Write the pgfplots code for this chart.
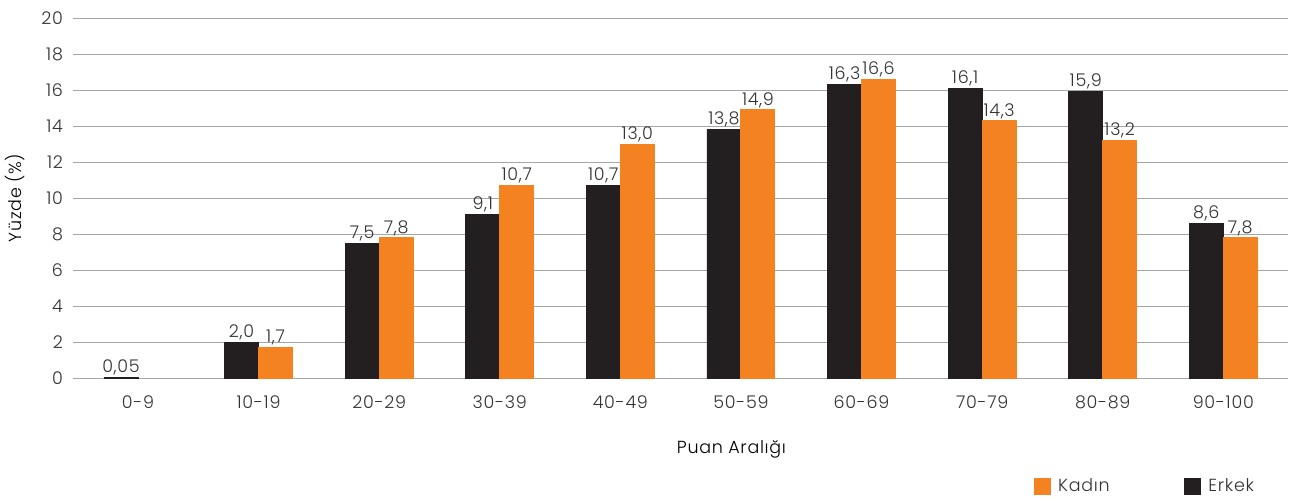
\documentclass[border=0pt]{standalone}
\usepackage{pgfplots}
\pgfplotsset{compat=1.18}
\usepackage{pgfplotstable}
\usepackage{fontspec}
\setmainfont{Poppins Light}[LetterSpace=4]
\definecolor{erk}{HTML}{231F20}
\definecolor{kad}{HTML}{F58220}
\definecolor{gridc}{HTML}{A6A6A6}
\definecolor{txt}{HTML}{333333}

\pgfplotstableread{
x y lab
0 0.05 0,05
1 2.0 2,0
2 7.5 7,5
3 9.1 9,1
4 10.7 10,7
5 13.8 13,8
6 16.3 16,3
7 16.1 16,1
8 15.9 15,9
9 8.6 8,6
}\erkek
\pgfplotstableread{
x y lab
1 1.7 1,7
2 7.8 7,8
3 10.7 10,7
4 13.0 13,0
5 14.9 14,9
6 16.6 16,6
7 14.3 14,3
8 13.2 13,2
9 7.8 7,8
}\kadin

\begin{document}
\fontsize{17.5}{20}\selectfont
\begin{tikzpicture}
\useasboundingbox (-73pt,-123pt) rectangle (1225pt,378pt);
\begin{axis}[
  at={(0pt,0pt)}, anchor=south west,
  scale only axis, width=1215pt, height=360pt,
  xmin=-0.539, xmax=9.536, ymin=0, ymax=20,
  ytick={0,2,...,20},
  xtick={0,...,9},
  xticklabels={0-9,10-19,20-29,30-39,40-49,50-59,60-69,70-79,80-89,90-100},
  ymajorgrids, grid style={gridc, line width=0.8pt},
  axis line style={draw=none},
  major tick length=0pt,
  /pgf/number format/assume math mode=true,
  tick label style={font=\fontsize{17.5}{20}\selectfont, text=txt},
  yticklabel style={xshift=-4pt},
  xticklabel style={yshift=-12pt},
  ylabel={Yüzde (\%)},
  xlabel={Puan Aralığı},
  label style={font=\fontsize{17.5}{20}\selectfont, text=txt},
  every axis y label/.style={at={(axis description cs:0,0.5)}, rotate=90, anchor=center, yshift=58pt},
  every axis x label/.style={at={(axis description cs:0.5,0)}, anchor=center, yshift=-71pt, xshift=51pt},
  ybar=0pt, bar width=34pt,
  nodes near coords,
  point meta=explicit symbolic,
  nodes near coords style={font=\fontsize{17.5}{20}\selectfont, text=txt, inner sep=2pt},
  legend columns=2, reverse legend,
  legend style={at={(axis description cs:0.7885,-0.30)}, anchor=west, draw=none, fill=none,
    font=\fontsize{17.5}{20}\selectfont, text=txt, column sep=0pt,
    /tikz/every odd column/.append style={column sep=6pt},
    /tikz/every even column/.append style={column sep=72pt}},
  legend image code/.code={\fill[#1] (0pt,-8pt) rectangle (16pt,8pt);},
]
\addplot[fill=erk, draw=erk, line width=0.8pt] table[x=x, y=y, meta=lab] {\erkek};
\addlegendentry{Erkek}
\addplot[fill=kad, draw=kad, line width=0pt] table[x=x, y=y, meta=lab] {\kadin};
\addlegendentry{Kadın}
\end{axis}
\end{tikzpicture}
\end{document}
